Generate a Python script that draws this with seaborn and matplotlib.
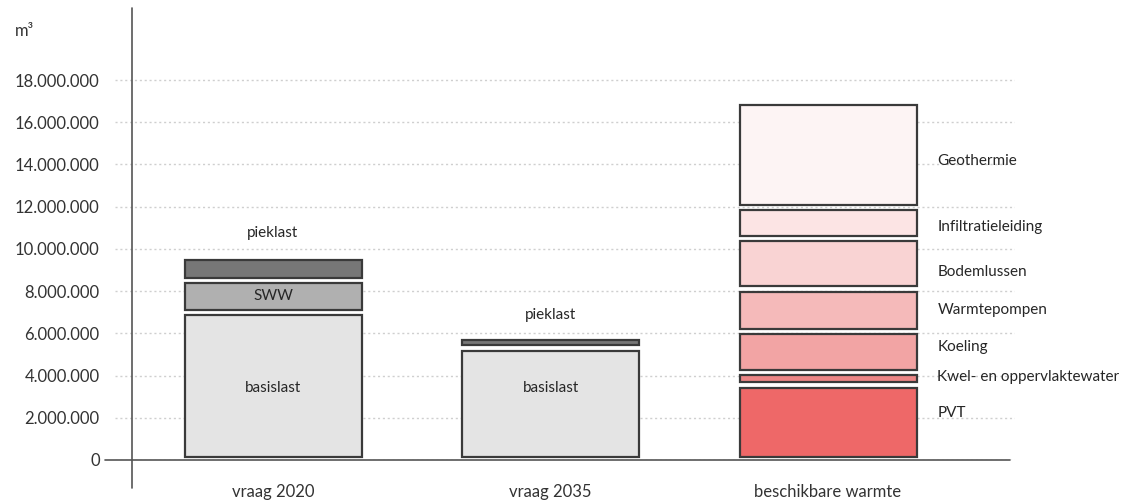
import matplotlib.pyplot as plt
import seaborn as sns

# data (m3)
categories = ["vraag 2020", "vraag 2035", "beschikbare warmte"]

demand_2020_labels = ["basislast", "SWW", "pieklast"]
demand_2020_values = [7.0e6, 1.5e6, 1.1e6]

demand_2035_labels = ["basislast", "pieklast"]
demand_2035_values = [5.3e6, 0.5e6]

supply_labels = ["PVT", "Kwel- en oppervlaktewater", "Koeling", "Warmtepompen",
                 "Bodemlussen", "Infiltratieleiding", "Geothermie"]
supply_values = [3.55e6, 0.6e6, 1.95e6, 2.0e6, 2.4e6, 1.45e6, 5.0e6]

y_ticks = [0, 2e6, 4e6, 6e6, 8e6, 10e6, 12e6, 14e6, 16e6, 18e6]

grey_colors = ["#e4e4e4", "#b0b0b0", "#777777"]
red_colors = ["#ee6868", "#ec8686", "#f2a4a4", "#f5baba", "#f9d3d3", "#fce4e4", "#fdf4f4"]

sns.set_theme(style="white")
plt.rcParams["font.family"] = ["Lato", "DejaVu Sans"]

W, H = 1125, 503
fig = plt.figure(figsize=(W / 100, H / 100), dpi=100)
# axes: x from 115 to 1015 px, y from 8 (top) to 460 (zero line)
ax = fig.add_axes([115 / W, 1 - 460 / H, 900 / W, 452 / H])

px_per_unit = 277.5
x0 = 273
ax.set_xlim((115 - x0) / px_per_unit, (1015 - x0) / px_per_unit)
ymax = 18e6 / 380 * 452
ax.set_ylim(0, ymax)

bar_w = 177 / px_per_unit
gap = 0.25e6
edge = "#3a3a3a"
txt = "#262626"


def stacked(xpos, values, colors):
    tops = []
    cum = 0
    for v, c in zip(values, colors):
        ax.bar(xpos, v - gap, bottom=cum + gap / 2, width=bar_w, color=c,
               edgecolor=edge, linewidth=1.6, zorder=3)
        tops.append((cum, cum + v))
        cum += v
    return tops


s20 = stacked(0, demand_2020_values, grey_colors)
s35 = stacked(1, demand_2035_values, [grey_colors[0], grey_colors[2]])
s_sup = stacked(2, supply_values, red_colors)

# labels inside / above demand bars
ax.text(0, 3.4e6, demand_2020_labels[0], ha="center", va="center", fontsize=11, color=txt, zorder=4)
ax.text(0, sum(s20[1]) / 2, demand_2020_labels[1], ha="center", va="center", fontsize=11, color=txt, zorder=4)
ax.text(0, s20[2][1] + 1.15e6, demand_2020_labels[2], ha="center", va="center", fontsize=11, color=txt, zorder=4)
ax.text(1, 3.4e6, demand_2035_labels[0], ha="center", va="center", fontsize=11, color=txt, zorder=4)
ax.text(1, s35[1][1] + 1.05e6, demand_2035_labels[1], ha="center", va="center", fontsize=11, color=txt, zorder=4)

# labels to the right of the supply bar
nudge = {"PVT": 0.45e6, "Koeling": 0.22e6, "Kwel- en oppervlaktewater": 0.08e6,
         "Bodemlussen": -0.4e6, "Infiltratieleiding": -0.2e6, "Geothermie": -0.3e6}
for lab, (lo, hi) in zip(supply_labels, s_sup):
    ax.text(2 + bar_w / 2 + 0.075, (lo + hi) / 2 + nudge.get(lab, 0), lab,
            ha="left", va="center", fontsize=11, color=txt, zorder=4)

# axes styling
for sp in ax.spines.values():
    sp.set_visible(False)
ax.set_yticks(y_ticks)
ax.set_yticklabels(["0" if t == 0 else f"{int(t):,}".replace(",", ".") for t in y_ticks])
ax.yaxis.grid(True, linestyle=(0, (1.5, 2)), color="#cfcfcf", linewidth=1, zorder=0)
ax.set_xticks(range(len(categories)))
ax.set_xticklabels(categories)
ax.tick_params(axis="y", length=0, pad=11, labelsize=12, labelcolor="#333333")
ax.tick_params(axis="x", length=0, pad=17, labelsize=12, labelcolor="#333333")
ax.set_axisbelow(True)

# axis lines
ax.axhline(0, xmin=-10 / 900, xmax=895 / 900, color="#555555", linewidth=1.2, clip_on=False, zorder=2)
ax.axvline((132 - x0) / px_per_unit, ymin=-28 / 452, ymax=1, color="#555555", linewidth=1.2,
           clip_on=False, zorder=2)

fig.text(15 / W, 1 - 31 / H, "m³", ha="left", va="center", fontsize=12, color="#333333")

fig.savefig("out.png", dpi=100, facecolor="white")
